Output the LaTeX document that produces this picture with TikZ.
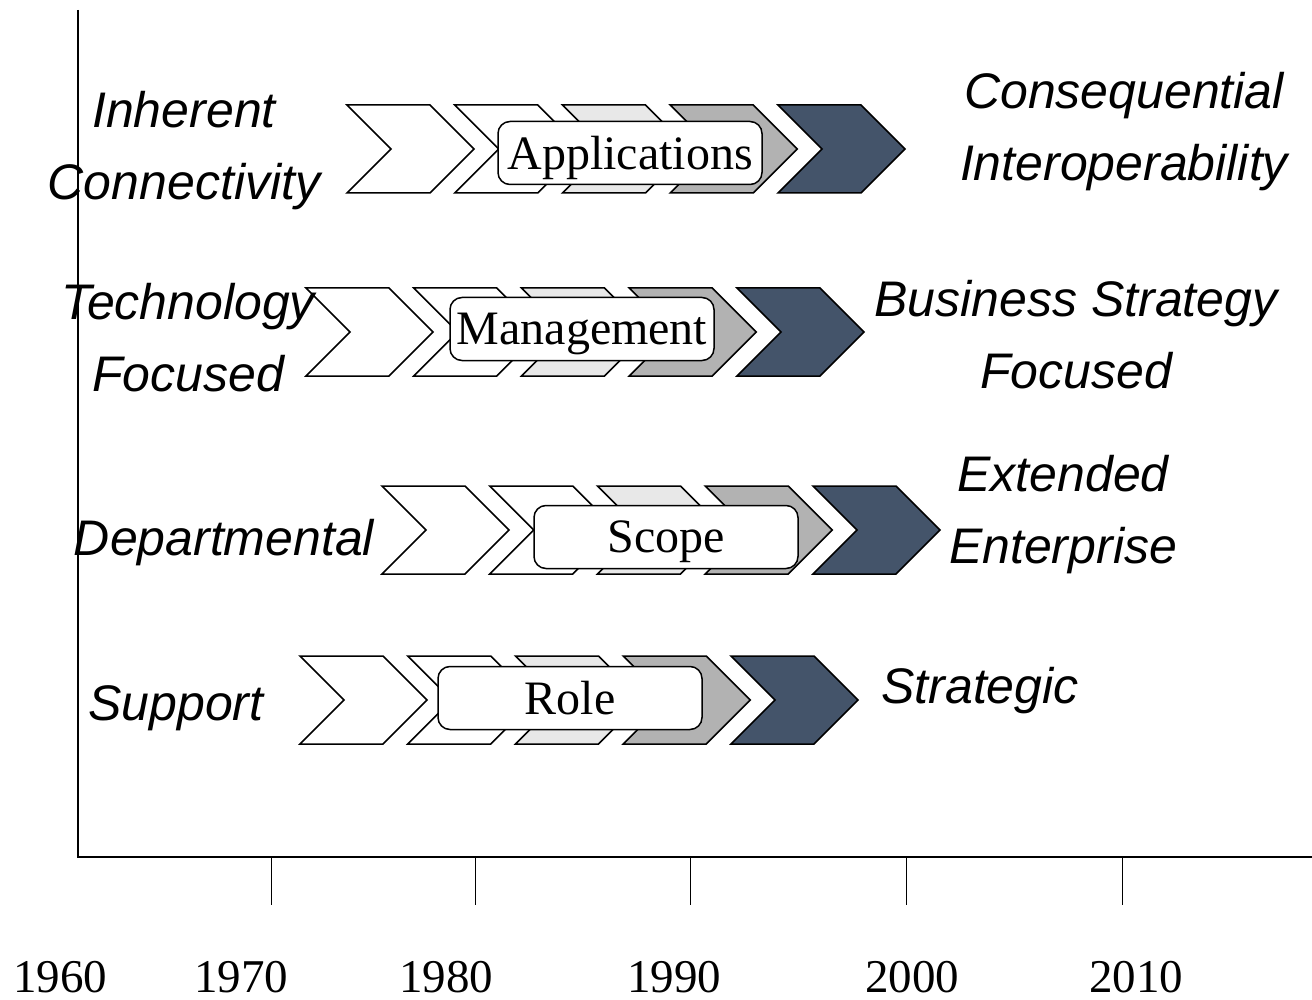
\documentclass[tikz,border=0pt]{standalone}
\usepackage{fontspec}
\setmainfont{Liberation Serif}
\setsansfont{Liberation Sans}
\usepackage{tikz}

\definecolor{lightgray}{HTML}{E8E8E8}
\definecolor{midgray}{HTML}{B2B2B2}
\definecolor{slate}{HTML}{44546A}

\tikzset{
  chev/.style={draw=black,line width=0.75pt,line join=miter},
  tag/.style={draw=black,line width=0.75pt,fill=white,rounded corners=6pt,minimum width=132pt,minimum height=31.5pt,inner sep=0pt,text depth=0pt,font=\fontsize{24}{28}\selectfont},
  side/.style={align=center,inner sep=0pt,font=\sffamily\itshape\fontsize{25}{36}\selectfont},
  year/.style={inner sep=0pt,font=\fontsize{23.5}{28}\selectfont},
  axis/.style={line width=1pt},
  tick/.style={line width=0.5pt}
}

\begin{document}
\begin{tikzpicture}[x=0.5pt,y=-0.5pt]
\useasboundingbox (0,0) rectangle (1312,1000);

% axes
\coordinate (top) at (78,10);
\coordinate (origin) at (78,857);
\coordinate (end) at (1312,857);
\draw[axis] (top) -- (origin) -- (end);

\foreach \t/\x in {1970/271,1980/475,1990/690,2000/906,2010/1122}{
  \coordinate (t\t) at (\x,857);
  \coordinate (b\t) at (\x,905);
  \draw[tick] (t\t) -- (b\t);
}

\node[year] (y1960) at (60,977) {1960};
\node[year] (y1970) at (241,977) {1970};
\node[year] (y1980) at (446,977) {1980};
\node[year] (y1990) at (674,977) {1990};
\node[year] (y2000) at (912,977) {2000};
\node[year] (y2010) at (1136,977) {2010};

% chevron rows
\foreach \x/\y in {347/105,306/288,382/486,300/656}{
  \foreach \i/\c in {0/white,1/white,2/lightgray,3/midgray,4/slate}{
    \draw[chev,fill=\c] ({\x+\i*107.75},\y) -- ++(83,0) -- ++(44,44) -- ++(-44,44) -- ++(-83,0) -- ++(44,-44) -- cycle;
  }
}

\node[tag] (apps) at (630,153) {Applications};
\node[tag] (mgmt) at (582,329) {Management};
\node[tag] (scope) at (666,537) {Scope};
\node[tag] (role) at (570,698) {Role};

% row labels
\node[side] (inherent) at (184,151) {Inherent\\Connectivity};
\node[side] (conseq) at (1124,132) {Consequential\\Interoperability};
\node[side] (techf) at (188,338) {Technology\\Focused};
\node[side] (busf) at (1076,335) {Business Strategy\\Focused};
\node[side] (dept) at (224,543) {Departmental};
\node[side] (ext) at (1063,515) {Extended\\Enterprise};
\node[side] (support) at (176,708) {Support};
\node[side] (strat) at (980,691) {Strategic};
\end{tikzpicture}
\end{document}
